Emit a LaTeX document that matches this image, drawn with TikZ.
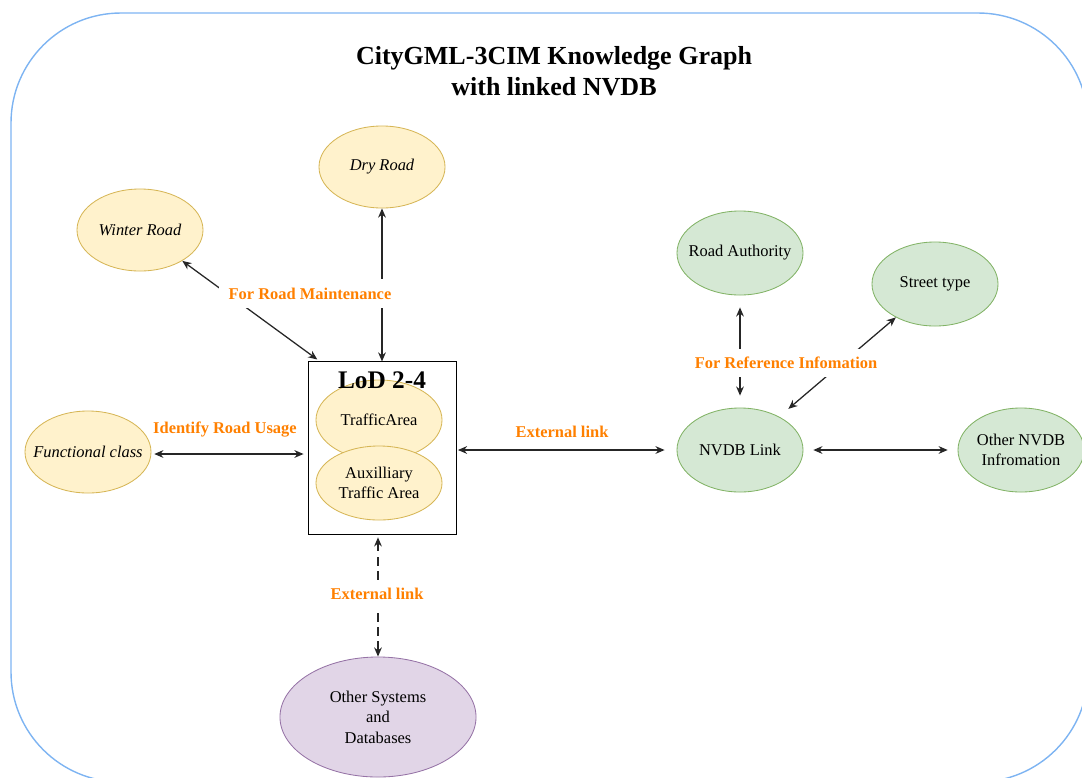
\documentclass[tikz,border=0pt]{standalone}
\usepackage{fontspec}
\setmainfont{Liberation Serif}
\usetikzlibrary{shapes.geometric,arrows.meta}
\definecolor{roadfill}{HTML}{FFF2CC}
\definecolor{roadline}{HTML}{D6B656}
\definecolor{nvdbfill}{HTML}{D5E8D4}
\definecolor{nvdbline}{HTML}{82B366}
\definecolor{sysfill}{HTML}{E1D5E7}
\definecolor{sysline}{HTML}{9673A6}
\definecolor{labelorange}{HTML}{FF8000}
\definecolor{frameblue}{HTML}{7EB4F2}
\begin{document}
\begin{tikzpicture}[x=0.025cm, y=-0.025cm,
    nodefont/.style={font=\fontsize{11.7}{14.5}\selectfont},
    roadnode/.style={ellipse, draw=roadline, fill=roadfill, line width=0.6pt, minimum width=3.15cm, minimum height=2.05cm, inner xsep=-12pt, inner ysep=-8pt, align=center, nodefont},
    nvdbnode/.style={ellipse, draw=nvdbline, fill=nvdbfill, line width=0.6pt, minimum width=3.15cm, minimum height=2.1cm, inner xsep=-12pt, inner ysep=-8pt, align=center, nodefont},
    linklabel/.style={fill=white, text=labelorange, inner xsep=7pt, inner ysep=6pt, font=\bfseries\fontsize{11.7}{14}\selectfont},
    link/.style={black!85, line width=0.9pt, {Stealth[length=6.5pt,width=5.5pt]}-{Stealth[length=6.5pt,width=5.5pt]}}]
    \useasboundingbox (0,0) rectangle (1082,777);
    \draw[frameblue, line width=1pt, rounded corners=2.75cm] (11,13) rectangle (1088,782);

    \node[align=center, font=\bfseries\fontsize{18.5}{22.5}\selectfont] (title) at (554,71) {CityGML-3CIM Knowledge Graph\\with linked NVDB};

    % CityGML side
    \node[roadnode] (dry) at (382,167) {\itshape Dry Road};
    \node[roadnode] (winter) at (140,230) {\itshape Winter Road};
    \node[roadnode] (func) at (88,452) {\itshape Functional class};
    \node[draw, line width=0.7pt, minimum width=3.675cm, minimum height=4.3cm, inner sep=0pt] (lod) at (382.5,448) {};
    \node[roadnode, minimum height=2cm] (traffic) at (379,420) {TrafficArea};
    \node[roadnode, minimum height=1.85cm] (aux) at (379,483) {Auxilliary\\Traffic Area};
    \node[font=\bfseries\fontsize{18}{20}\selectfont] (lodtitle) at (382,380) {LoD 2-4};
    \node[ellipse, draw=sysline, fill=sysfill, line width=0.6pt, minimum width=4.9cm, minimum height=3cm, inner xsep=-12pt, inner ysep=-10pt, align=center, nodefont] (others) at (378,717) {Other Systems\\and\\ Databases};

    % NVDB side
    \node[nvdbnode] (authority) at (740,253) {Road Authority};
    \node[nvdbnode] (street) at (935,284) {Street type};
    \node[nvdbnode] (nvdb) at (740,450) {NVDB Link};
    \node[nvdbnode] (othernvdb) at (1021,450) {Other NVDB\\Infromation};

    % connectors
    \draw[link] ([xshift=0.22cm, yshift=0.05cm]lod.north west) -- (winter);
    \draw[link] (lod.north -| dry.south) -- (dry.south);
    \draw[link, shorten <=2pt, shorten >=3.5pt] (func.east |- 0,454) -- (lod.west |- 0,454);
    \draw[link, shorten <=1pt, shorten >=8.5pt] (lod.east |- nvdb.west) -- (nvdb.west);
    \draw[link, shorten <=7pt, shorten >=7pt] (nvdb.east) -- (othernvdb.west);
    \draw[link, shorten <=8.5pt, shorten >=8.5pt] (nvdb.north) -- (authority.south);
    \draw[link, shorten <=8.5pt] (nvdb) -- (street);
    \draw[link, dashed, dash pattern=on 6pt off 4pt, shorten <=2pt] (lod.south -| others.north) -- (others.north);

    % labels
    \node[linklabel] (maint) at (310,293.5) {For Road Maintenance};
    \node[linklabel, fill=none] (usage) at (225,430) {Identify Road Usage};
    \node[linklabel, fill=none] (extnvdb) at (562,432) {External link};
    \node[linklabel] (reference) at (786,363) {For Reference Infomation};
    \node[linklabel] (extsys) at (377,594) {External link};
\end{tikzpicture}
\end{document}
